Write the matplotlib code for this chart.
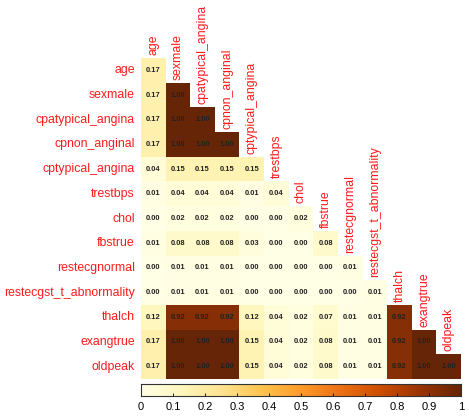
import numpy as np
import matplotlib
matplotlib.use("Agg")
import matplotlib.pyplot as plt
from matplotlib.colors import Normalize

labels = ["age", "sexmale", "cpatypical_angina", "cpnon_anginal", "cptypical_angina",
          "trestbps", "chol", "fbstrue", "restecgnormal", "restecgst_t_abnormality",
          "thalch", "exangtrue", "oldpeak"]

rows = [
    [0.17],
    [0.17, 1.00],
    [0.17, 1.00, 1.00],
    [0.17, 1.00, 1.00, 1.00],
    [0.04, 0.15, 0.15, 0.15, 0.15],
    [0.01, 0.04, 0.04, 0.04, 0.01, 0.04],
    [0.00, 0.02, 0.02, 0.02, 0.00, 0.00, 0.02],
    [0.01, 0.08, 0.08, 0.08, 0.03, 0.00, 0.00, 0.08],
    [0.00, 0.01, 0.01, 0.01, 0.00, 0.00, 0.00, 0.00, 0.01],
    [0.00, 0.01, 0.01, 0.01, 0.00, 0.00, 0.00, 0.00, 0.00, 0.01],
    [0.12, 0.92, 0.92, 0.92, 0.12, 0.04, 0.02, 0.07, 0.01, 0.01, 0.92],
    [0.17, 1.00, 1.00, 1.00, 0.15, 0.04, 0.02, 0.08, 0.01, 0.01, 0.92, 1.00],
    [0.17, 1.00, 1.00, 1.00, 0.15, 0.04, 0.02, 0.08, 0.01, 0.01, 0.92, 1.00, 1.00],
]

cbar_ticks = [0, 0.1, 0.2, 0.3, 0.4, 0.5, 0.6, 0.7, 0.8, 0.9, 1]
cbar_ticklabels = ["0", "0.1", "0.2", "0.3", "0.4", "0.5", "0.6", "0.7", "0.8", "0.9", "1"]

plt.rcParams['font.family'] = ['Liberation Sans', 'DejaVu Sans']

n = len(labels)
M = np.full((n, n), np.nan)
for i, r in enumerate(rows):
    M[i, :len(r)] = r
Mm = np.ma.masked_invalid(M)

W, H = 469, 419
fig = plt.figure(figsize=(W / 100, H / 100), dpi=100)
ax = fig.add_axes([141 / W, 1 - 379 / H, 320 / W, 321 / H])
cmap = plt.get_cmap("YlOrBr")
norm = Normalize(0, 1)
ax.pcolormesh(np.arange(n + 1), np.arange(n + 1), Mm, cmap=cmap, norm=norm)
ax.set_xlim(0, n)
ax.set_ylim(n, 0)
ax.axis("off")

for i, r in enumerate(rows):
    for j, v in enumerate(r):
        ax.text(j + 0.5, i + 0.5, f"{v:.2f}", ha="center", va="center",
                fontsize=5.4, fontweight="bold", color="#222222")
    ax.text(-0.25, i + 0.5, labels[i], ha="right", va="center", fontsize=8.8, color="#ff1a1a")
    ax.text(i + 0.5, i - 0.12, labels[i], ha="center", va="bottom", rotation=90,
            fontsize=8.8, color="#ff1a1a")

cax = fig.add_axes([141 / W, 1 - 396 / H, 320 / W, 12 / H])
grad = np.linspace(0, 1, 256)[None, :]
cax.imshow(grad, aspect="auto", cmap=cmap, norm=norm, extent=[0, 1, 0, 1])
cax.set_xlim(0, 1)
cax.set_yticks([])
cax.set_xticks(cbar_ticks)
cax.set_xticklabels(cbar_ticklabels, fontsize=8)
cax.tick_params(axis="x", length=2.5, width=0.6, pad=4, direction="in")
for s in cax.spines.values():
    s.set_linewidth(0.8)
    s.set_color("#333333")

fig.savefig("out.png", dpi=100)
